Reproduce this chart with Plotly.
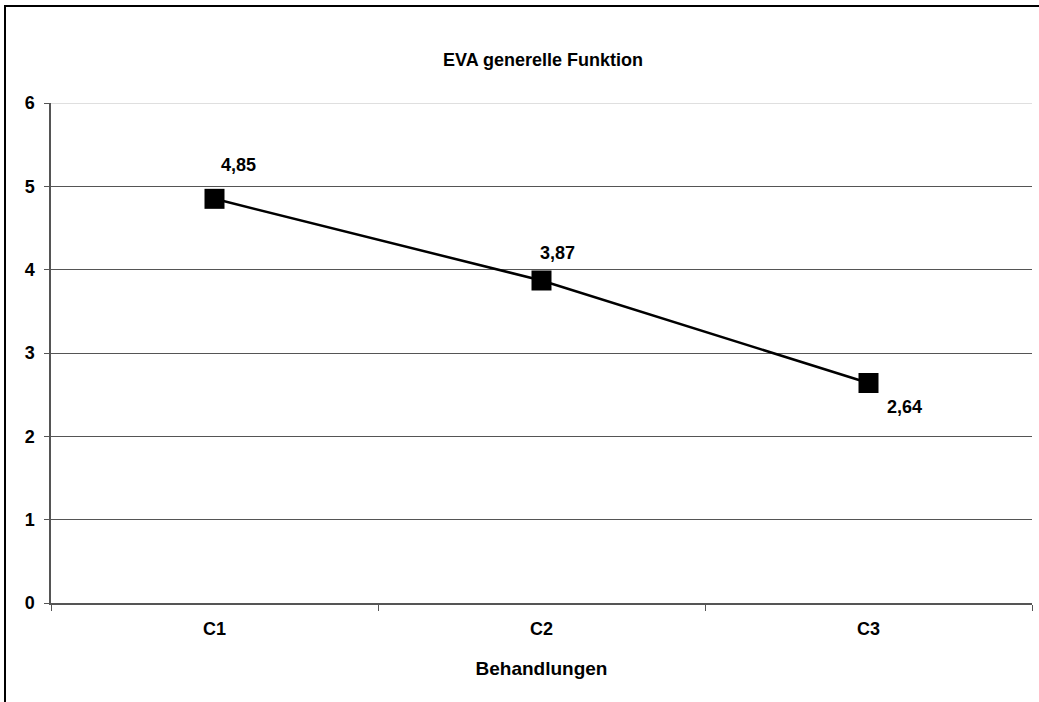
import plotly.graph_objects as go

categories = ["C1", "C2", "C3"]
values = [4.85, 3.87, 2.64]
labels = ["4,85", "3,87", "2,64"]
label_shift_x = [24, 16, 36]
label_shift_y = [34, 28, -24]
y_max = 6

FONT = "Liberation Sans, Arial, sans-serif"
BOLD = dict(family=FONT, size=18, color="black", weight="bold")

fig = go.Figure()
fig.add_trace(go.Scatter(
    x=categories, y=values, mode="lines+markers",
    line=dict(color="black", width=2.5),
    marker=dict(symbol="square", size=20, color="black"),
    showlegend=False, hoverinfo="skip",
))

for c, v, t, dx, dy in zip(categories, values, labels, label_shift_x, label_shift_y):
    fig.add_annotation(x=c, y=v, text=t, showarrow=False, xshift=dx, yshift=dy, font=BOLD)

# light top gridline
fig.add_hline(y=y_max, line=dict(color="#d4d4d4", width=1.5), layer="below")

# outer chart border
fig.add_shape(type="rect", xref="paper", yref="paper",
              x0=(5 - 51) / 981, x1=1.2, y0=-0.4, y1=(603 - 6) / 500,
              line=dict(color="black", width=2), fillcolor="rgba(0,0,0,0)", layer="below")

fig.update_layout(
    width=1039, height=702,
    margin=dict(l=51, r=7, t=103, b=99),
    paper_bgcolor="white", plot_bgcolor="white",
    font=BOLD,
    title=dict(text="EVA generelle Funktion", x=(543 - 51) / 981, xref="paper",
               xanchor="center", y=1 - 60 / 702, yanchor="middle", font=BOLD),
    xaxis=dict(
        type="category", range=[-0.5, 2.5],
        showline=True, linecolor="#555555", linewidth=1.5,
        ticks="outside", tickson="boundaries", ticklen=6, tickcolor="#555555",
        ticklabelstandoff=9,
        showgrid=False, zeroline=False,
        tickfont=BOLD,
        title=dict(text="Behandlungen", standoff=23,
                   font=dict(family=FONT, size=19, color="black", weight="bold")),
    ),
    yaxis=dict(
        range=[0, y_max], dtick=1, tick0=0,
        showline=True, linecolor="#555555", linewidth=1.5,
        ticks="outside", ticklen=5, tickcolor="#555555",
        ticklabelstandoff=6,
        showgrid=True, gridcolor="#555555", gridwidth=1,
        zeroline=False,
        tickfont=BOLD,
    ),
)

fig.write_html("out.html", config={"displayModeBar": False},
               post_script="document.body.style.margin='0';")
